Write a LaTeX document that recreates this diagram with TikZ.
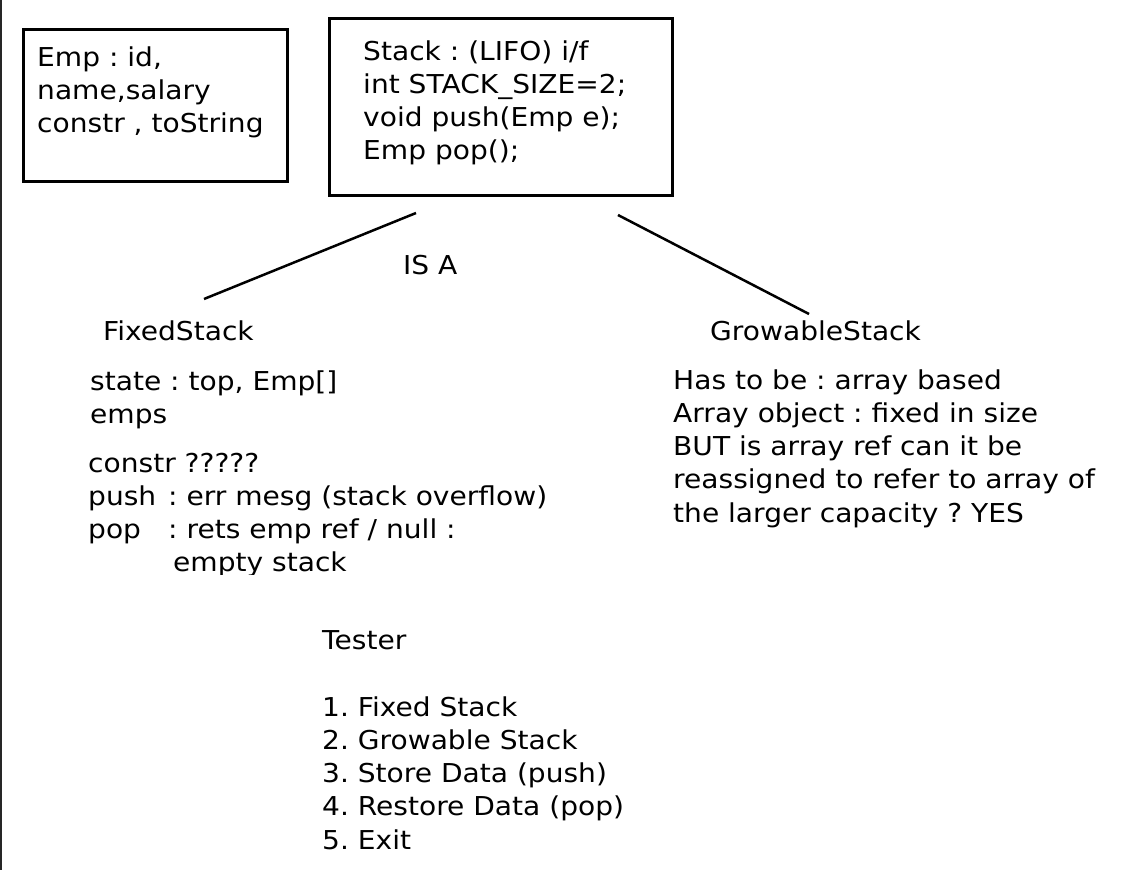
\documentclass[tikz,border=0pt]{standalone}
\usepackage{fontspec}
\setmainfont{DejaVu Sans}[FakeStretch=1.08]
\usetikzlibrary{calc}

\begin{document}
\frenchspacing
\begin{tikzpicture}[x=1pt, y=-1pt]

    % --- Parámetros globales ---
    \def\fs{26}        % tamaño de letra
    \def\lh{33.3}      % interlineado
    \def\lw{2.5pt}     % grosor de trazo

    % El ancla "base" de un nodo de varias líneas es la última línea,
    % por eso se suma (n-1)*\lh a la primera línea base
    \tikzset{
        txt/.style={anchor=base west, inner sep=0pt, align=left, font=\fontsize{\fs}{\lh}\selectfont},
        caja/.style={draw, line width=\lw, inner sep=0pt, anchor=north west},
        enlace/.style={line width=\lw}
    }

    % Marco de la imagen
    \useasboundingbox (0,0) rectangle (1127,870);
    \draw[line width=2.4pt, black!85] (1.2,0) -- (1.2,870);

    % =========================================================================
    % PARTE SUPERIOR: clase Emp e interfaz Stack
    % =========================================================================
    \node[caja, minimum width=264pt, minimum height=152pt] (empbox) at (22,28) {};
    \node[txt] (emp) at (37,{66+2*\lh}) {Emp : id,\\name,salary\\constr , toString};

    \node[caja, minimum width=343pt, minimum height=177pt] (stackbox) at (328,17) {};
    \node[txt] (stack) at (363,{60+3*\lh}) {Stack : (LIFO) i/f\\int STACK\_SIZE=2;\\void push(Emp e);\\Emp pop();};

    % Relación IS A
    \coordinate (isaL) at (416,213);
    \coordinate (isaR) at (618,215);
    \coordinate (fixedTop) at (204,299);
    \coordinate (growTop) at (809,314);
    \draw[enlace] (isaL) -- (fixedTop);
    \draw[enlace] (isaR) -- (growTop);
    \node[txt] (isa) at (403,274) {IS A};

    % =========================================================================
    % PARTE IZQUIERDA: FixedStack
    % =========================================================================
    \node[txt] (fixed) at (103,340) {FixedStack};
    \node[txt] (state) at (90,{390+\lh}) {state : top, Emp[]\\emps};
    \begin{scope}
        % la última línea aparece cortada en la imagen
        \clip (0,440) rectangle (600,574);
        \node[txt] (ops) at (88,{472+3*\lh}) {constr ?????\\\makebox[80pt][l]{push}: err mesg (stack overflow)\\\makebox[80pt][l]{pop}: rets emp ref / null :\\\hspace*{85pt}empty stack};
    \end{scope}

    % =========================================================================
    % PARTE DERECHA: GrowableStack
    % =========================================================================
    \node[txt] (grow) at (710,340) {GrowableStack};
    \node[txt] (growinfo) at (673,{389+4*\lh}) {Has to be : array based\\Array object : fixed in size\\BUT is array ref can it be\\reassigned to refer to array of\\the larger capacity ? YES};

    % =========================================================================
    % PARTE INFERIOR: Tester
    % =========================================================================
    \node[txt] (tester) at (322,649) {Tester};
    \node[txt] (menu) at (322,{716+4*\lh}) {1. Fixed Stack\\2. Growable Stack\\3. Store Data (push)\\4. Restore Data (pop)\\5. Exit};

\end{tikzpicture}
\end{document}
